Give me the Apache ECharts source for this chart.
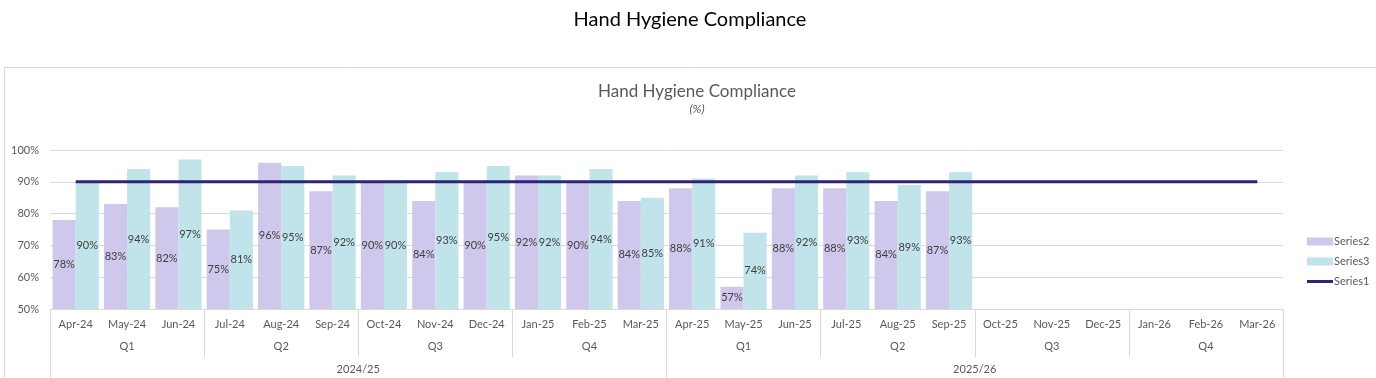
<!DOCTYPE html>
<html>
<head>
<meta charset="utf-8">
<script src="https://cdn.jsdelivr.net/npm/echarts@6/dist/echarts.min.js"></script>
<style>
html,body{margin:0;padding:0;background:#fff;}
#c{width:1376px;height:378px;}
</style>
</head>
<body>
<div id="c"></div>
<script>
const months = ['Apr-24','May-24','Jun-24','Jul-24','Aug-24','Sep-24','Oct-24','Nov-24','Dec-24','Jan-25','Feb-25','Mar-25','Apr-25','May-25','Jun-25','Jul-25','Aug-25','Sep-25','Oct-25','Nov-25','Dec-25','Jan-26','Feb-26','Mar-26'];
const quarters = ['Q1','Q2','Q3','Q4','Q1','Q2','Q3','Q4'];
const years = ['2024/25','2025/26'];
const series2 = [78,83,82,75,96,87,90,84,90,92,90,84,88,57,88,88,84,87,null,null,null,null,null,null];
const series3 = [90,94,97,81,95,92,90,93,95,92,94,85,91,74,92,93,89,93,null,null,null,null,null,null];
const series1 = [90,90,90,90,90,90,90,90,90,90,90,90,90,90,90,90,90,90,90,90,90,90,90,90];

const font = 'Lato, "Open Sans", "Liberation Sans", sans-serif';
const chart = echarts.init(document.getElementById('c'), null, {renderer:'canvas'});
const labelCfg = {show:true, position:'inside', formatter: p => p.value == null ? '' : p.value + '%', color:'#404040', fontSize:11, fontFamily:font};
chart.setOption({
  animation:false,
  textStyle:{fontFamily:font},
  graphic:[{type:'rect', shape:{x:4.5,y:67.5,width:1400,height:400}, style:{fill:'none', stroke:'#d9d9d9', lineWidth:1}, silent:true, z:-10}],
  title:[
    {text:'Hand Hygiene Compliance', left:685, top:5, textAlign:'center', textStyle:{fontSize:20, fontWeight:'normal', color:'#000', fontFamily:font}},
    {text:'Hand Hygiene Compliance', subtext:'(%)', left:692, top:78, textAlign:'center', itemGap:3,
     textStyle:{fontSize:17, fontWeight:'normal', color:'#595959', fontFamily:font},
     subtextStyle:{fontSize:12, fontStyle:'italic', color:'#595959', fontFamily:font}}
  ],
  legend:{orient:'vertical', left:1302, top:231, itemWidth:26, itemHeight:8, itemGap:9, symbolKeepAspect:true,
    data:[{name:'Series2', icon:'rect'},{name:'Series3', icon:'rect'},{name:'Series1', icon:'path://M0,0 L26,0 L26,3 L0,3 Z'}],
    textStyle:{fontSize:11, color:'#595959', fontFamily:font, padding:[0,0,0,-4]}},
  grid:{left:50, right:93, top:150, bottom:69},
  xAxis:[
    {type:'category', data:months, position:'bottom', axisLine:{lineStyle:{color:'#d9d9d9'}}, axisTick:{show:false},
     axisLabel:{interval:0, margin:10, color:'#595959', fontSize:11, fontFamily:font}},
    {type:'category', data:quarters, position:'bottom', axisLine:{show:false},
     axisTick:{show:true, interval:0, length:48, lineStyle:{color:'#d9d9d9'}},
     axisLabel:{interval:0, margin:32, color:'#595959', fontSize:11, fontFamily:font}},
    {type:'category', data:years, position:'bottom', axisLine:{show:false},
     axisTick:{show:true, interval:0, length:72, lineStyle:{color:'#d9d9d9'}},
     axisLabel:{interval:0, margin:55, color:'#595959', fontSize:11, fontFamily:font}}
  ],
  yAxis:{type:'value', min:50, max:100, interval:10, axisLine:{show:false}, axisTick:{show:false},
    axisLabel:{formatter:'{value}%', color:'#595959', fontSize:11, margin:11, fontFamily:font},
    splitLine:{lineStyle:{color:'#d9d9d9'}}},
  series:[
    {name:'Series2', type:'bar', data:series2, barGap:'0%', barCategoryGap:'10%', itemStyle:{color:'#CFC7EC'}, label:labelCfg},
    {name:'Series3', type:'bar', data:series3, barGap:'0%', barCategoryGap:'10%', itemStyle:{color:'#C0E4E9'}, label:labelCfg},
    {name:'Series1', type:'line', data:series1, symbol:'none', lineStyle:{color:'#2E2574', width:3}, itemStyle:{color:'#2E2574'}, z:5}
  ]
});
</script>
</body>
</html>
